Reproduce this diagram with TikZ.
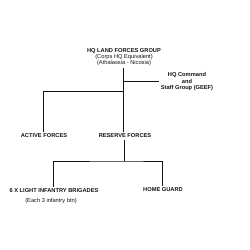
\documentclass[tikz,border=0pt]{standalone}
\usepackage{fontspec}
\setmainfont{Liberation Sans}
\usepackage{tikz}
\usetikzlibrary{positioning,calc}
\definecolor{inkblack}{RGB}{20,20,20}

\begin{document}
\begin{tikzpicture}[
  x=1pt, y=1pt,
  unit/.style={inner sep=2pt, align=center, text=inkblack, font=\fontsize{5.7}{6}\selectfont\bfseries},
  note/.style={text=inkblack, font=\fontsize{5.7}{6}\selectfont\mdseries},
  link/.style={draw=inkblack, line width=1pt}
]
\useasboundingbox[fill=white] (0,0) rectangle (250,-250);
\node[unit] (hqlfg) at (124,-57) {HQ LAND FORCES GROUP\\{\mdseries(Corps HQ Equivalent)}\\{\mdseries(Athalassia - Nicosia)}};
\node[unit, font=\fontsize{5.7}{6.5}\selectfont\bfseries] (geef) at (187,-82) {HQ Command\\and\\Staff Group (GEEF)};
\node[unit] (active) at (44,-136) {ACTIVE FORCES};
\node[unit] (reserve) at (125,-136) {RESERVE FORCES};
\node[unit] (brigades) at (54,-191) {6 X LIGHT INFANTRY BRIGADES};
\node[note, below=0pt of brigades, xshift=-3pt] (btn) {(Each 3 infantry btn)};
\node[unit] (homeguard) at (163,-190) {HOME GUARD};

\coordinate (upper) at (124,-91);
\coordinate (lower) at (125,-161);

\draw[link] (hqlfg.south) -- (hqlfg.south |- reserve.north);
\draw[link] (hqlfg.south |- 0,-81) -- (geef.west |- 0,-81);
\draw[link] (upper) -| (active.north);
\draw[link] (reserve.south) -- (lower);
\draw[link] (brigades.north) |- (lower) -| (homeguard.north);
\end{tikzpicture}
\end{document}
